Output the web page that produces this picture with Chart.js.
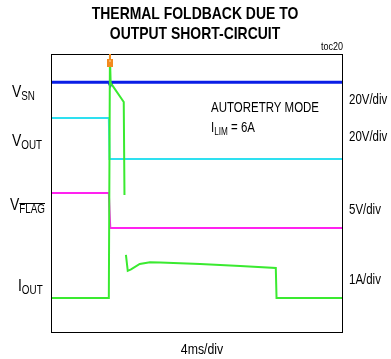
<!DOCTYPE html>
<html>
<head>
<meta charset="utf-8">
<script src="https://cdn.jsdelivr.net/npm/chart.js@4.4.1/dist/chart.umd.min.js"></script>
<style>
  html, body { margin: 0; padding: 0; background: #fff; }
  canvas { display: block; }
</style>
</head>
<body>
<canvas id="scope" width="391" height="359"></canvas>
<script>
// time axis in ms (10 div x 4ms), vertical axis in screen divisions (0..8)
const vsnTime  = [0, 7.95, 8.15, 8.4, 40];
const vsnDiv   = [7.19, 7.19, 7.1, 7.19, 7.19];

const voutTime = [0, 7.95, 8.05, 40];
const voutDiv  = [6.16, 6.16, 4.98, 4.98];

const flagTime = [0, 7.95, 8.15, 40];
const flagDiv  = [4.0, 4.0, 2.99, 2.99];

const ioutTime = [0, 7.95, 8.1, 8.2, 10.0, 10.1, 10.2, 10.3, 10.55, 11.0, 12.2, 13.6, 15.0, 20.5, 26.0, 30.9, 31.0, 40];
const ioutDiv  = [0.98, 0.98, 7.94, 7.17, 6.62, 3.94, null, 2.22, 1.76, 1.8, 1.96, 2.01, 2.0, 1.96, 1.9, 1.84, 0.98, 0.98];

const triggerTime = 8.1;

const channelLabels = [
    { main: 'V', sub: 'SN', x: 12, y: 97 },
    { main: 'V', sub: 'OUT', x: 12, y: 146 },
    { main: 'V', sub: 'FLAG', x: 10, y: 210, bar: true },
    { main: 'I', sub: 'OUT', x: 18, y: 291 }
];
const scaleLabels = [
    { text: '20V/div', y: 104 },
    { text: '20V/div', y: 141 },
    { text: '5V/div', y: 214 },
    { text: '1A/div', y: 284 }
];

const FONT = '"Liberation Sans", Arial, sans-serif';
const SQUEEZE = 0.82; // the original uses a narrow face

// draws squeezed text, returns its drawn width
function txt(ctx, str, x, y, size, bold, align) {
    ctx.save();
    ctx.font = (bold ? 'bold ' : '') + size + 'px ' + FONT;
    ctx.textAlign = align || 'left';
    ctx.translate(x, y);
    ctx.scale(SQUEEZE, 1);
    ctx.fillText(str, 0, 0);
    const w = ctx.measureText(str).width * SQUEEZE;
    ctx.restore();
    return w;
}

function subText(ctx, main, sub, x, y, mainSize, subSize, bar) {
    const w = txt(ctx, main, x, y, mainSize);
    const sw = txt(ctx, sub, x + w, y + 3, subSize);
    if (bar) ctx.fillRect(x + w, Math.round(y + 3 - subSize * 0.85), sw, 1);
    return w + sw;
}

const decor = {
    id: 'decor',
    afterDraw(chart) {
        const ctx = chart.ctx;
        const a = chart.chartArea;
        ctx.save();
        // frame
        ctx.strokeStyle = '#000';
        ctx.lineWidth = 1;
        ctx.strokeRect(a.left + 0.5, a.top + 0.5, a.right - a.left, a.bottom - a.top);

        ctx.fillStyle = '#000';
        txt(ctx, 'THERMAL FOLDBACK DUE TO', 195, 19, 17, true, 'center');
        txt(ctx, 'OUTPUT SHORT-CIRCUIT', 195, 39, 17, true, 'center');
        txt(ctx, 'toc20', 343, 50, 11, false, 'right');
        txt(ctx, '4ms/div', 202, 354, 15, false, 'center');

        channelLabels.forEach(l => subText(ctx, l.main, l.sub, l.x, l.y, 17, 12, l.bar));
        scaleLabels.forEach(l => txt(ctx, l.text, 349, l.y, 14));

        txt(ctx, 'AUTORETRY MODE', 211, 112, 14);
        const w = subText(ctx, 'I', 'LIM', 211, 132, 14, 10, false);
        txt(ctx, ' = 6A', 211 + w, 132, 14);

        // trigger marker
        const tx = Math.round(chart.scales.x.getPixelForValue(triggerTime));
        ctx.fillStyle = '#f28a1e';
        ctx.fillRect(tx - 3, 59, 6, 8);
        ctx.fillRect(tx - 1, 54, 2, 5);
        ctx.fillStyle = '#f9b060';
        ctx.fillRect(tx - 1, 60, 2, 2);
        ctx.restore();
    }
};

new Chart(document.getElementById('scope').getContext('2d'), {
    type: 'line',
    data: {
        datasets: [
            { label: 'IOUT', data: toPoints(ioutTime, ioutDiv), borderColor: '#3aea30', borderWidth: 2 },
            { label: 'VSN', data: toPoints(vsnTime, vsnDiv), borderColor: '#0a1ee6', borderWidth: 3 },
            { label: 'VOUT', data: toPoints(voutTime, voutDiv), borderColor: '#2ee0f0', borderWidth: 2 },
            { label: 'VFLAG', data: toPoints(flagTime, flagDiv), borderColor: '#ff22f0', borderWidth: 2 }
        ]
    },
    options: {
        responsive: false,
        animation: false,
        spanGaps: false,
        layout: { padding: { left: 51, right: 49, top: 54, bottom: 27 } },
        elements: { point: { radius: 0 }, line: { tension: 0 } },
        scales: {
            x: { type: 'linear', min: 0, max: 40, display: false },
            y: { min: 0, max: 8, display: false }
        },
        plugins: { legend: { display: false }, tooltip: { enabled: false } }
    },
    plugins: [decor]
});

function toPoints(xs, ys) {
    return xs.map((x, i) => ({ x: x, y: ys[i] }));
}
</script>
</body>
</html>
